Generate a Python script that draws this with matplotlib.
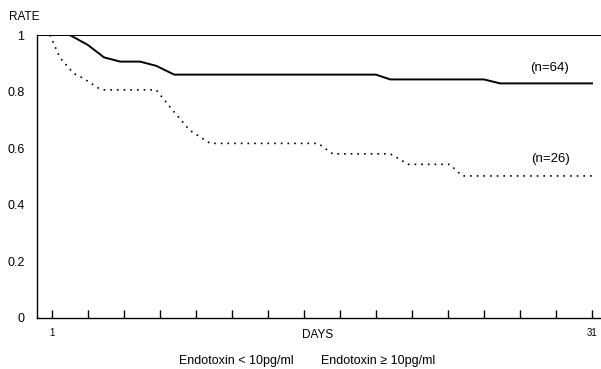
import matplotlib
matplotlib.use("Agg")
import matplotlib.pyplot as plt

plt.rcParams['font.family'] = ['Liberation Sans', 'DejaVu Sans']

# Endotoxin < 10 pg/ml (n=64), solid
low_days = [1, 2, 3, 3.9, 4.8, 5.9, 6.8, 7.8, 19, 19.8, 25, 25.9, 31]
low_rate = [1.0, 1.0, 0.965, 0.921, 0.906, 0.906, 0.891, 0.86, 0.86, 0.843, 0.843, 0.829, 0.829]

# Endotoxin >= 10 pg/ml (n=26), dotted
high_days = [0.9, 1.45, 2.2, 2.75, 3.6, 3.85, 6.8, 7.7, 8.65, 9.2, 9.8,
             15.8, 16.6, 19.8, 20.8, 23.1, 23.8, 31]
high_rate = [1.0, 0.92, 0.865, 0.847, 0.812, 0.806, 0.806, 0.735, 0.664, 0.641, 0.617,
             0.617, 0.58, 0.58, 0.543, 0.543, 0.502, 0.502]

yticks = [0, 0.2, 0.4, 0.6, 0.8, 1]
ytick_labels = ["0", "0.2", "0.4", "0.6", "0.8", "1"]
xticks = list(range(1, 32, 2))
xtick_labels = ["1"] + [""] * 14 + ["31"]

fig = plt.figure(figsize=(6.01, 3.69), dpi=100)
ax = fig.add_axes([37 / 601, 51 / 369, 1 - 37 / 601, 283 / 369])

ax.plot(low_days, low_rate, color="black", lw=1.4, solid_joinstyle="round")
ax.plot(high_days, high_rate, color="black", lw=1.2, linestyle=(0, (1, 3)))
ax.axhline(1.0, color="black", lw=1.4)

ax.set_xlim(0.18, 31.5)
ax.set_ylim(0, 1.0)
for s in ["right", "top"]:
    ax.spines[s].set_visible(False)
ax.spines["left"].set_linewidth(1.0)
ax.spines["bottom"].set_linewidth(1.0)

ax.set_yticks(yticks)
ax.set_yticklabels(ytick_labels, fontsize=9)
ax.tick_params(axis="y", length=0, pad=9)
ax.set_xticks(xticks)
ax.set_xticklabels(xtick_labels, fontsize=7)
ax.tick_params(axis="x", direction="in", length=6, width=1, pad=7)

fig.text(9 / 601, 1 - 17 / 369, "RATE", fontsize=8.5, ha="left", va="center")
fig.text(318 / 601, 1 - 335 / 369, "DAYS", fontsize=8.5, ha="center", va="center")
fig.text(236 / 601, 1 - 361 / 369, "Endotoxin < 10pg/ml", fontsize=9, ha="center", va="center")
fig.text(378 / 601, 1 - 361 / 369, "Endotoxin \u2265 10pg/ml", fontsize=9, ha="center", va="center")
ax.text(28.65, 0.884, "(n=64)", fontsize=9.5, ha="center", va="center")
ax.text(28.7, 0.562, "(n=26)", fontsize=9.5, ha="center", va="center")

fig.savefig("out.png", dpi=100)
